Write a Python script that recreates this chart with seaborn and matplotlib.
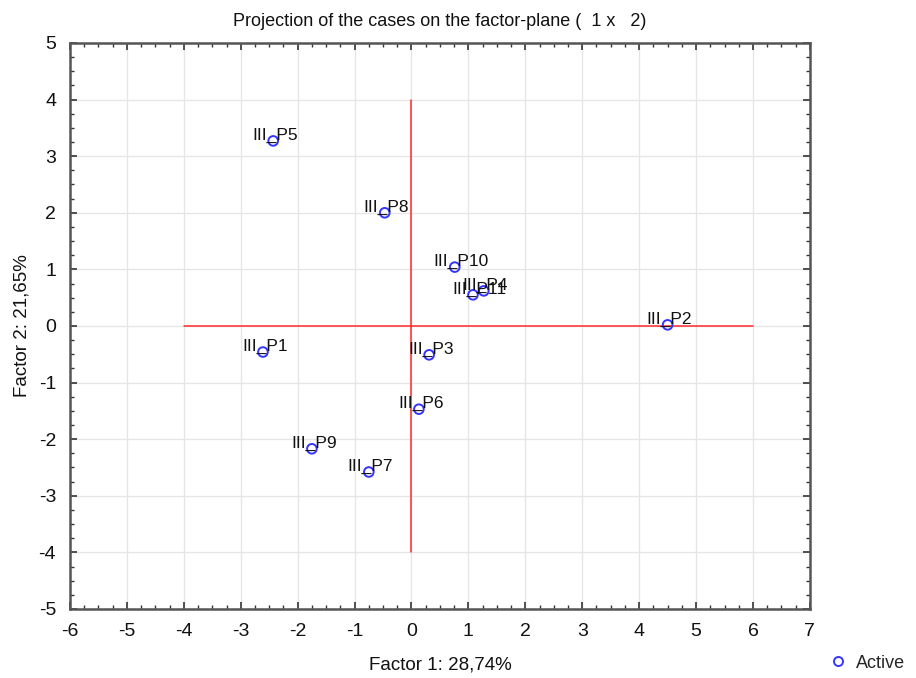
import matplotlib
matplotlib.use("Agg")
import matplotlib.pyplot as plt
from matplotlib.ticker import MultipleLocator
import seaborn as sns
import pandas as pd

labels = ["III_P1", "III_P2", "III_P3", "III_P4", "III_P5", "III_P6",
          "III_P7", "III_P8", "III_P9", "III_P10", "III_P11"]
factor1 = [-2.61, 4.50, 0.31, 1.27, -2.43, 0.13, -0.75, -0.47, -1.75, 0.76, 1.08]
factor2 = [-0.46, 0.02, -0.51, 0.62, 3.27, -1.47, -2.58, 2.00, -2.17, 1.04, 0.55]
group = ["Active"] * len(labels)

df = pd.DataFrame({"Factor 1": factor1, "Factor 2": factor2, "Case": labels, "Type": group})

sns.set_theme(style="white")
plt.rcParams["font.family"] = ["Liberation Sans", "DejaVu Sans"]
plt.rcParams["axes.unicode_minus"] = False

fig = plt.figure(figsize=(9.16, 6.78), dpi=100)
ax = fig.add_axes([0.0764, 0.1018, 0.8078, 0.8348])

# reference lines
ax.plot([-4, 6], [0, 0], color="#ff2a2a", lw=1.1, zorder=1)
ax.plot([0, 0], [-4, 4], color="#ff2a2a", lw=1.1, zorder=1)

sns.scatterplot(data=df, x="Factor 1", y="Factor 2", ax=ax, marker="o", s=48,
                facecolors="none", edgecolor="#3535ff", linewidth=1.4,
                legend=False, zorder=3)

for lab, xv, yv in zip(labels, factor1, factor2):
    ax.annotate(lab, (xv, yv), xytext=(-21, -2), textcoords="offset pixels",
                ha="left", va="bottom", fontsize=12.5, color="#111111", zorder=4)

ax.set_xlim(-6, 7)
ax.set_ylim(-5, 5)
ax.xaxis.set_major_locator(MultipleLocator(1))
ax.yaxis.set_major_locator(MultipleLocator(1))
ax.xaxis.set_minor_locator(MultipleLocator(0.25))
ax.yaxis.set_minor_locator(MultipleLocator(0.25))
ax.grid(True, which="major", color="#e6e6e6", lw=1)
ax.set_axisbelow(True)
ax.tick_params(which="both", direction="in", top=True, right=True,
               bottom=True, left=True, color="#333333")
ax.tick_params(which="major", length=5, width=1.2, labelsize=14, pad=10,
               labeltop=False, labelright=False, labelcolor="#111111")
ax.tick_params(which="minor", length=3, width=1)
for sp in ax.spines.values():
    sp.set_color("#555555")
    sp.set_linewidth(1.8)

ax.set_xlabel("Factor 1: 28,74%", fontsize=13.5, labelpad=12, color="#111111")
ax.set_ylabel("Factor 2: 21,65%", fontsize=13.5, labelpad=6, color="#111111")
ax.set_title("Projection of the cases on the factor-plane (  1 x   2)", fontsize=13,
             pad=12, color="#111111")

# legend
leg_handle = plt.Line2D([], [], marker="o", linestyle="none", markerfacecolor="none",
                        markeredgecolor="#3535ff", markeredgewidth=1.4, markersize=6.5)
fig.legend([leg_handle], ["Active"], loc="center left", bbox_to_anchor=(0.901, 0.022),
           frameon=False, fontsize=13, handletextpad=0.5, handlelength=1.0,
           borderaxespad=0.0, borderpad=0.2)

fig.savefig("out.png", dpi=100)
